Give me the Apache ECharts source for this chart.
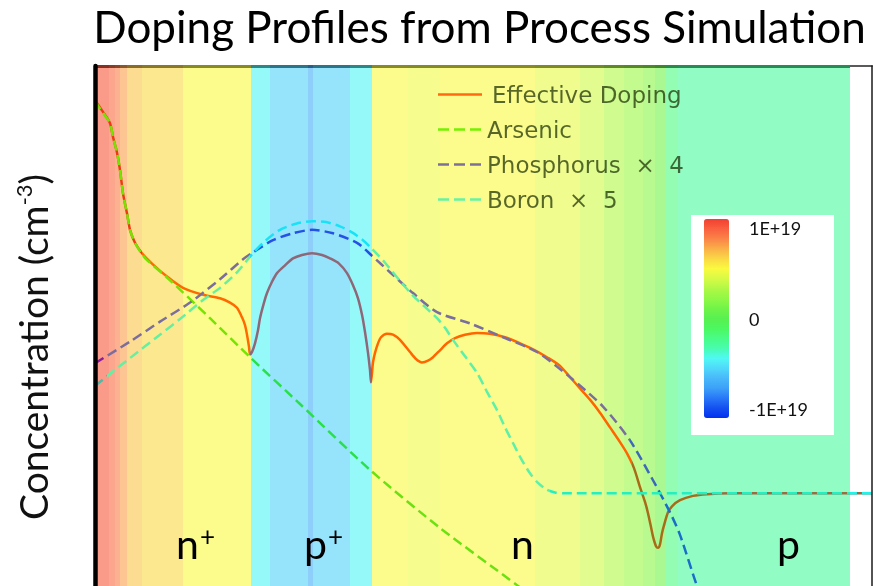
<!DOCTYPE html>
<html>
<head>
<meta charset="utf-8">
<script src="https://cdn.jsdelivr.net/npm/echarts@6/dist/echarts.min.js"></script>
<style>
  html, body { margin: 0; padding: 0; background: #fff; }
  #chart { width: 874px; height: 586px; }
</style>
</head>
<body>
<div id="chart"></div>
<script>
// Depth (nm) vs log10 concentration (cm^-3)
const effectiveDoping = [
  [0,20.60],[2,20.57],[8,20.47],[15,20.34],[18,20.18],[22,20.00],[25,19.80],[28,19.53],[32,19.30],[35,19.11],
  [40,18.96],[47,18.84],[57,18.72],[72,18.57],[88,18.44],[108,18.36],[125,18.32],[135,18.27],[142,18.21],
  [147,18.10],[150,18.01],[152,17.90],[154,17.76],[155,17.67],[157,17.70],[160,17.80],[163,17.95],[165,18.09],
  [169,18.27],[172,18.38],[177,18.51],[182,18.61],[190,18.70],[198,18.78],[207,18.82],[217,18.84],[227,18.82],
  [235,18.78],[244,18.72],[252,18.61],[258,18.47],[263,18.32],[267,18.13],[270,17.93],[273,17.69],[275,17.49],
  [276,17.35],[278,17.58],[280,17.69],[283,17.80],[286,17.87],[292,17.91],[298,17.90],[305,17.84],[315,17.70],
  [321,17.62],[327,17.58],[333,17.60],[338,17.64],[345,17.72],[352,17.80],[360,17.86],[370,17.90],[382,17.92],
  [395,17.91],[410,17.87],[425,17.80],[440,17.72],[452,17.64],[465,17.54],[475,17.41],[485,17.28],[495,17.15],
  [505,17.00],[515,16.83],[525,16.66],[532,16.53],[539,16.36],[545,16.14],[550,15.97],[553,15.84],[556,15.68],
  [558,15.57],[561,15.46],[563,15.44],[565,15.48],[567,15.61],[569,15.70],[573,15.85],[577,15.92],[585,15.99],
  [598,16.04],[612,16.06],[635,16.07],[685,16.07],[777,16.07]
];
const arsenic = [
  [0,20.60],[2,20.56],[8,20.46],[15,20.34],[18,20.18],[22,20.00],[25,19.80],[28,19.53],[32,19.30],[35,19.11],
  [40,18.96],[47,18.83],[52,18.76],[70,18.58],[85,18.42],[115,18.09],[155,17.64],[205,17.10],[275,16.34],
  [345,15.67],[422,15.01],[445,14.80]
];
const phosphorusX4 = [
  [0,17.57],[35,17.82],[65,18.05],[95,18.27],[125,18.54],[148,18.77],[158,18.85],[178,18.99],[198,19.07],
  [217,19.11],[238,19.07],[262,18.96],[277,18.81],[295,18.62],[318,18.38],[342,18.16],[375,18.03],[408,17.87],
  [442,17.70],[475,17.41],[508,17.07],[535,16.68],[558,16.22],[575,15.85],[585,15.59],[602,15.00],[610,14.78]
];
const boronX5 = [
  [0,17.31],[35,17.63],[65,17.90],[85,18.08],[108,18.30],[125,18.44],[142,18.62],[158,18.84],[170,18.98],
  [185,19.11],[201,19.18],[217,19.21],[231,19.20],[245,19.15],[257,19.08],[268,18.99],[277,18.89],[290,18.73],
  [305,18.52],[318,18.35],[330,18.22],[342,18.09],[350,17.98],[358,17.84],[370,17.65],[382,17.46],[392,17.24],
  [402,17.03],[410,16.83],[418,16.65],[426,16.47],[435,16.30],[443,16.19],[452,16.11],[460,16.08],[470,16.07],
  [777,16.07]
];
// Net doping bands: [from nm, to nm, level on the -1E+19 .. 1E+19 colour scale]
const netDopingBands = [
  [0,14,0.93],[14,20,0.87],[20,25,0.82],[25,32,0.74],[32,47,0.65],[47,88,0.59],[88,156,0.50],
  [156,175,-0.41],[175,213,-0.52],[213,218,-0.64],[218,255,-0.52],[255,277,-0.41],
  [277,313,0.50],[313,345,0.47],[345,440,0.50],[440,485,0.44],[485,509,0.38],[509,529,0.30],
  [529,548,0.24],[548,560,0.18],[560,570,0.10],[570,583,-0.18],[583,755,-0.25]
];
const seriesNames = ['Effective Doping', 'Arsenic', 'Phosphorus  \u00d7  4', 'Boron  \u00d7  5'];
const regionNames = [['n', '+'], ['p', '+'], ['n', ''], ['p', '']];
const colorbarTicks = ['1E+19', '0', '-1E+19'];

const jet = ['#0030F0','#1450F0','#2878F8','#3CA0F8','#48B8FA','#50D8FA','#50F8F4','#48FCB0','#48FC88','#4CF860',
             '#58F050','#70F448','#90F845','#B0F845','#D8FA45','#FAFA40','#FAD845','#FAB048','#FA8448','#FA6040','#F04030'];

function shade(color, k) {
  let r, g, b;
  if (color.charAt(0) === '#') {
    r = parseInt(color.substr(1, 2), 16); g = parseInt(color.substr(3, 2), 16); b = parseInt(color.substr(5, 2), 16);
  } else {
    const m = color.match(/[\d.]+/g).map(Number);
    r = m[0]; g = m[1]; b = m[2];
  }
  return 'rgb(' + Math.round(r * k) + ',' + Math.round(g * k) + ',' + Math.round(b * k) + ')';
}

const chart = echarts.init(document.getElementById('chart'), null, { renderer: 'canvas' });

const lineBase = { type: 'line', showSymbol: false, smooth: 0.25, animation: false, silent: true, z: 3 };

const fontMain = 'Lato, "Open Sans", sans-serif';
const legendFont = '"DejaVu Sans", sans-serif';
const legendText = 'rgba(25,45,0,0.72)';

const legendRows = [
  { y: 94.5, tx: 492, stroke: '#FF6A10', dash: null },
  { y: 129.5, tx: 487, stroke: '#74F000', dash: [11, 5] },
  { y: 164.5, tx: 487, stroke: '#7C7098', dash: [11, 5] },
  { y: 199.5, tx: 487, stroke: '#66F2A2', dash: [11, 5] }
];
const legendElems = [];
legendRows.forEach(function (r, i) {
  legendElems.push({ type: 'line', z: 20, shape: { x1: 438, y1: r.y, x2: 482, y2: r.y },
    style: { stroke: r.stroke, lineWidth: 2.5, lineDash: r.dash } });
  legendElems.push({ type: 'text', z: 20, x: r.tx, y: r.y + 2.5,
    style: { text: seriesNames[i], font: '23px ' + legendFont, fill: legendText, verticalAlign: 'middle' } });
});

const regionX = [176, 304, 511, 777];
const regionElems = regionNames.map(function (nm, i) {
  return { type: 'text', z: 20, x: regionX[i], y: 568,
    style: { text: '{m|' + nm[0] + '}' + (nm[1] ? '{s|' + nm[1] + '}' : ''), fill: '#000', verticalAlign: 'bottom',
      rich: { m: { fontSize: 41, fontFamily: fontMain, lineHeight: 44, fill: '#000' },
              s: { fontSize: 26, fontFamily: fontMain, lineHeight: 36, padding: [1, 0, 0, 1], verticalAlign: 'top', fill: '#000' } } } };
});

const cbY = [229.5, 319.7, 410];
const cbElems = [{ type: 'rect', z: 3, shape: { x: 691, y: 215, width: 143, height: 220 }, style: { fill: '#fff' } }]
  .concat(colorbarTicks.map(function (t, i) {
    return { type: 'text', z: 20, x: 749, y: cbY[i],
      style: { text: t, font: '18px ' + fontMain, fill: '#111', verticalAlign: 'middle' } };
  }));

const option = {
  animation: false,
  backgroundColor: '#fff',
  grid: { left: 95, right: 2, top: 66, bottom: 0, containLabel: false },
  xAxis: [
    { type: 'value', min: 0, max: 777, position: 'top',
      axisLine: { show: true, onZero: false, lineStyle: { color: '#5a5a5a', width: 2 } },
      axisTick: { show: false }, axisLabel: { show: false }, splitLine: { show: false } }
  ],
  yAxis: [
    { type: 'value', min: 15, max: 21, z: 10,
      axisLine: { show: true, lineStyle: { color: '#000', width: 4.5 } },
      axisTick: { show: false }, axisLabel: { show: false }, splitLine: { show: false } },
    { type: 'value', min: 15, max: 21, position: 'right', z: 10,
      axisLine: { show: true, lineStyle: { color: '#1a1a1a', width: 1.5 } },
      axisTick: { show: false }, axisLabel: { show: false }, splitLine: { show: false } }
  ],
  visualMap: [
    { type: 'continuous', seriesIndex: 0, dimension: 2, min: -1, max: 1, calculable: false, hoverLink: false,
      orient: 'vertical', left: 704, top: 219, itemWidth: 25, itemHeight: 199, padding: 0,
      inRange: { color: jet }, textStyle: { color: 'transparent' }, z: 5 },
    { type: 'piecewise', show: false, seriesIndex: 1, dimension: 0,
      pieces: [ { lt: 47, color: '#EE3A12' }, { gte: 47, lt: 155, color: '#FF6A00' },
                { gte: 155, lt: 277, color: '#8E6878' }, { gte: 277, lt: 537, color: '#FF6600' },
                { gte: 537, lt: 615, color: '#A86C18' }, { gte: 615, color: '#9A6A40' } ] },
    { type: 'piecewise', show: false, seriesIndex: 2, dimension: 0,
      pieces: [ { lt: 155, color: '#76E400' }, { gte: 155, lt: 277, color: '#2AE04A' }, { gte: 277, color: '#6CE010' } ] },
    { type: 'piecewise', show: false, seriesIndex: 3, dimension: 0,
      pieces: [ { lt: 12, color: '#8A1E9A' }, { gte: 12, lt: 155, color: '#7C6E9C' }, { gte: 155, lt: 277, color: '#2452E6' },
                { gte: 277, lt: 535, color: '#7A6E9E' }, { gte: 535, lt: 560, color: '#3D6AB8' }, { gte: 560, color: '#1A6EC8' } ] },
    { type: 'piecewise', show: false, seriesIndex: 4, dimension: 0,
      pieces: [ { lt: 12, color: '#5AB4A2' }, { gte: 12, lt: 155, color: '#64F0A0' }, { gte: 155, lt: 277, color: '#1AE2F6' },
                { gte: 277, lt: 455, color: '#5CF0A8' }, { gte: 455, lt: 755, color: '#22F0C2' }, { gte: 755, color: '#18F6F0' } ] }
  ],
  series: [
    { type: 'custom', name: 'Net doping', silent: true, z: 1, data: netDopingBands,
      dimensions: ['from', 'to', 'level'], encode: { x: [0, 1] },
      renderItem: function (params, api) {
        const cs = params.coordSys;
        const x0 = api.coord([api.value(0), 18])[0];
        const x1 = api.coord([api.value(1), 18])[0];
        const c = api.visual('color');
        return { type: 'group', children: [
          { type: 'rect', shape: { x: x0, y: cs.y, width: x1 - x0, height: cs.height }, style: { fill: c, opacity: 0.6 } },
          { type: 'rect', shape: { x: x0, y: cs.y - 1, width: x1 - x0, height: 3 }, style: { fill: shade(c, 0.55) } }
        ] };
      } },
    Object.assign({}, lineBase, { name: seriesNames[0], data: effectiveDoping, lineStyle: { width: 2.5 } }),
    Object.assign({}, lineBase, { name: seriesNames[1], data: arsenic, lineStyle: { width: 2.5, type: [10, 5] } }),
    Object.assign({}, lineBase, { name: seriesNames[2], data: phosphorusX4, lineStyle: { width: 2.5, type: [10, 5] } }),
    Object.assign({}, lineBase, { name: seriesNames[3], data: boronX5, lineStyle: { width: 2.5, type: [10, 5] } })
  ],
  graphic: [
    { type: 'text', z: 20, x: 479.5, y: 29,
      style: { text: 'Doping Profiles from Process Simulation', font: '44px ' + fontMain, fill: '#000',
               align: 'center', verticalAlign: 'middle' } },
    { type: 'text', z: 20, x: 35, y: 347, rotation: Math.PI / 2,
      style: { text: '{m|Concentration (cm}{s|-3}{m|)}', fill: '#111', align: 'center', verticalAlign: 'middle',
               rich: { m: { fontSize: 39, fontFamily: fontMain, lineHeight: 42, fill: '#111' },
                       s: { fontSize: 22, fontFamily: fontMain, lineHeight: 42, verticalAlign: 'top', fill: '#111' } } } }
  ].concat(legendElems, regionElems, cbElems)
};

chart.setOption(option);
</script>
</body>
</html>
